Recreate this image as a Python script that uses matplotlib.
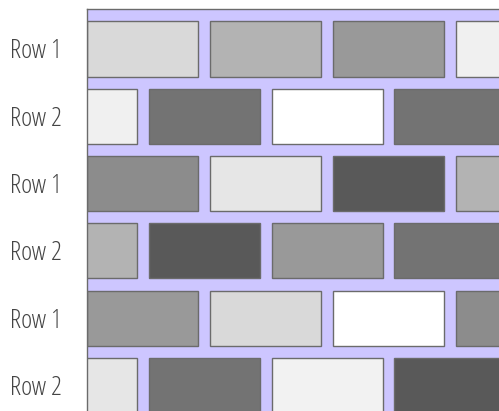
import matplotlib
matplotlib.use("Agg")
import matplotlib.pyplot as plt
from matplotlib import font_manager

row_labels = ["Row 1", "Row 2", "Row 1", "Row 2", "Row 1", "Row 2"]
brick_shades = [
    ["#d9d9d9", "#b3b3b3", "#999999", "#f0f0f0"],
    ["#f0f0f0", "#737373", "#ffffff", "#737373"],
    ["#8c8c8c", "#e6e6e6", "#595959", "#b3b3b3"],
    ["#b3b3b3", "#595959", "#999999", "#737373"],
    ["#999999", "#d9d9d9", "#ffffff", "#8c8c8c"],
    ["#e6e6e6", "#737373", "#f2f2f2", "#595959"],
]

# condensed light face for the row labels
cands = [f for f in font_manager.fontManager.ttflist
         if f.name == "Open Sans" and f.stretch == "condensed"]
cands.sort(key=lambda f: abs(int(f.weight) - 300) if str(f.weight).isdigit() else 999)
if cands:
    label_fp = font_manager.FontProperties(fname=cands[0].fname, size=19)
else:
    label_fp = font_manager.FontProperties(family="DejaVu Sans", stretch="condensed", size=15)

W, H = 499, 411
fig = plt.figure(figsize=(W / 100, H / 100), dpi=100)

period_px = 123.0
row_px = 67.3
left_px, top_px = 87.0, 9.3
n_rows = len(row_labels)
ax = fig.add_axes([left_px / W,
                   1 - (top_px + n_rows * row_px) / H,
                   (W - left_px) / W,
                   n_rows * row_px / H])
ax.set_facecolor("#cdc6ff")

brick_w = 111 / period_px
band = 12 / row_px
for r, shades in enumerate(brick_shades):
    offset = -0.5 if r % 2 else 0.0
    lefts = [offset + i for i in range(len(shades))]
    ax.barh([r + band + (1 - band) / 2] * len(shades), [brick_w] * len(shades),
            left=lefts, height=1 - band, color=shades,
            edgecolor="#6b6b6b", linewidth=1, align="center")

ax.set_xlim(0, (W - left_px) / period_px)
ax.set_ylim(n_rows, 0)
ax.set_yticks([r + band + (1 - band) / 2 for r in range(n_rows)])
ax.set_yticklabels(row_labels, color="#444444", fontproperties=label_fp)
ax.tick_params(axis="y", length=0, pad=18)
ax.set_xticks([])
for s in ["right", "bottom"]:
    ax.spines[s].set_visible(False)
for s in ["top", "left"]:
    ax.spines[s].set_color("#6b6b6b")
    ax.spines[s].set_linewidth(1)

fig.savefig("out.png", dpi=100)
